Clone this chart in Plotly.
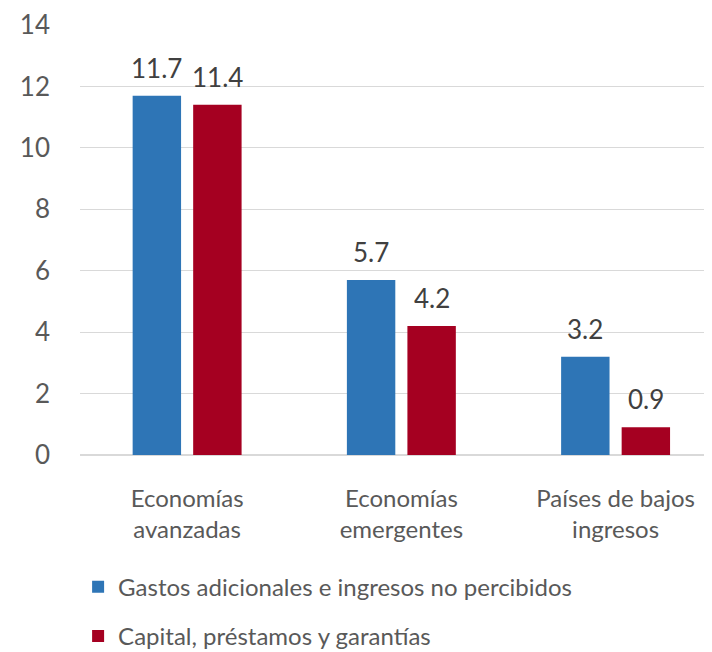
import plotly.graph_objects as go

categories = ["Economías<br>avanzadas", "Economías<br>emergentes", "Países de bajos<br>ingresos"]
gastos = [11.7, 5.7, 3.2]
capital = [11.4, 4.2, 0.9]
series_names = ["Gastos adicionales e ingresos no percibidos", "Capital, préstamos y garantías"]
colors = ["#2E75B6", "#A50021"]
y_ticks = [0, 2, 4, 6, 8, 10, 12, 14]

FONT = "Lato"
BAR_SHIFT = 30.3  # pixel half-slot of a grouped bar
fig = go.Figure()
for i, (name, vals) in enumerate(zip(series_names, [gastos, capital])):
    fig.add_trace(go.Bar(
        x=categories, y=vals, name=name, legendgroup=f"g{i}",
        marker=dict(color=colors[i], line=dict(width=0)),
    ))
    for c, v in zip(categories, vals):
        fig.add_annotation(x=c, y=v, text=f"{v:.1f}", showarrow=False,
                           xshift=(-BAR_SHIFT if i == 0 else BAR_SHIFT), yshift=10,
                           yanchor="bottom", font=dict(family=FONT, size=26, color="#404040"))

fig.update_layout(
    width=704, height=644,
    margin=dict(l=72, r=0, t=17, b=197, autoexpand=False),
    paper_bgcolor="white", plot_bgcolor="white",
    barmode="group", bargap=0.435, bargroupgap=0.2,
    font=dict(family=FONT, size=24, color="#595959"),
    xaxis=dict(range=[-0.5, 2.45], showgrid=False, showline=False, ticks="", automargin=False,
               tickfont=dict(size=24, color="#595959"), ticklabelstandoff=27),
    yaxis=dict(range=[0, 14], tickvals=y_ticks, showgrid=True, gridcolor="#D9D9D9",
               gridwidth=1, zeroline=True, zerolinecolor="#D9D9D9", zerolinewidth=1.5,
               showline=False, ticks="", automargin=False,
               tickfont=dict(size=26, color="#595959"), ticklabelstandoff=29),
    legend=dict(orientation="v", x=-0.003, xanchor="left", y=-0.255, yanchor="top",
                font=dict(size=24, color="#595959"), tracegroupgap=15,
                traceorder="grouped", itemwidth=30),
    showlegend=True,
)
fig.write_html("out.html")
